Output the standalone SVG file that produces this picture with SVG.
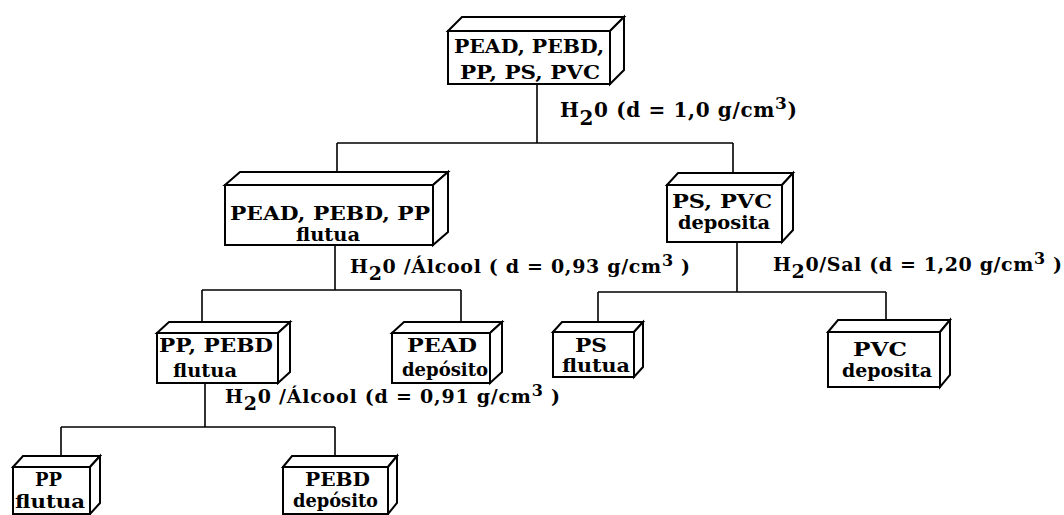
<svg xmlns="http://www.w3.org/2000/svg" width="1064" height="515" viewBox="0 0 1064 515">
<style>
.f{fill:#fff;stroke:#000;stroke-width:2;stroke-linejoin:miter}
.c{fill:none;stroke:#000;stroke-width:1.6}
.t{font-family:"DejaVu Serif","Liberation Serif",serif;font-weight:bold;fill:#000}
.n{font-size:19px}
.l{font-size:19px}
</style>
<rect width="1064" height="515" fill="#fff"/>
<g id="connectors" class="c">
<path d="M537 84V143M337 143H733M337 143V172M733 143V173"/>
<path d="M335 245V290M202 290H461M202 290V322M461 290V322"/>
<path d="M737 242V292M598 292H886M598 292V322M886 292V320"/>
<path d="M205 383V427M61 427H335M61 427V456M335 427V456"/>
</g>
<g id="n-root">
<rect class="f" x="448" y="31" width="162" height="53"/>
<polygon class="f" points="448,31 462,17 624,17 610,31"/>
<polygon class="f" points="610,31 624,17 624,70 610,84"/>
<text class="t n" x="454" y="53" textLength="150" lengthAdjust="spacingAndGlyphs">PEAD, PEBD,</text>
<text class="t n" x="460" y="79" textLength="140" lengthAdjust="spacingAndGlyphs">PP, PS, PVC</text>
</g>
<g id="n-flutua1">
<rect class="f" x="225" y="185" width="208" height="60"/>
<polygon class="f" points="225,185 240,172 448,172 433,185"/>
<polygon class="f" points="433,185 448,172 448,232 433,245"/>
<text class="t n" x="230" y="220" textLength="200" lengthAdjust="spacingAndGlyphs">PEAD, PEBD, PP</text>
<text class="t n" x="296" y="241" textLength="64" lengthAdjust="spacingAndGlyphs">flutua</text>
</g>
<g id="n-deposita1">
<rect class="f" x="667" y="185" width="115" height="57"/>
<polygon class="f" points="667,185 678,173 793,173 782,185"/>
<polygon class="f" points="782,185 793,173 793,230 782,242"/>
<text class="t n" x="672" y="208" textLength="100" lengthAdjust="spacingAndGlyphs">PS, PVC</text>
<text class="t n" x="678" y="229" textLength="92" lengthAdjust="spacingAndGlyphs">deposita</text>
</g>
<g id="n-flutua2">
<rect class="f" x="157" y="333" width="121" height="50"/>
<polygon class="f" points="157,333 169,322 290,322 278,333"/>
<polygon class="f" points="278,333 290,322 290,372 278,383"/>
<text class="t n" x="159" y="352" textLength="114" lengthAdjust="spacingAndGlyphs">PP, PEBD</text>
<text class="t n" x="173" y="377" textLength="64" lengthAdjust="spacingAndGlyphs">flutua</text>
</g>
<g id="n-pead">
<rect class="f" x="392" y="333" width="98" height="50"/>
<polygon class="f" points="392,333 404,322 502,322 490,333"/>
<polygon class="f" points="490,333 502,322 502,372 490,383"/>
<text class="t n" x="407" y="352" textLength="70" lengthAdjust="spacingAndGlyphs">PEAD</text>
<text class="t n" x="402" y="376" textLength="86" lengthAdjust="spacingAndGlyphs">depósito</text>
</g>
<g id="n-ps">
<rect class="f" x="553" y="332" width="81" height="45"/>
<polygon class="f" points="553,332 562,322 643,322 634,332"/>
<polygon class="f" points="634,332 643,322 643,367 634,377"/>
<text class="t n" x="575" y="352" textLength="32" lengthAdjust="spacingAndGlyphs">PS</text>
<text class="t n" x="562" y="372" textLength="68" lengthAdjust="spacingAndGlyphs">flutua</text>
</g>
<g id="n-pvc">
<rect class="f" x="828" y="332" width="112" height="55"/>
<polygon class="f" points="828,332 838,320 950,320 940,332"/>
<polygon class="f" points="940,332 950,320 950,375 940,387"/>
<text class="t n" x="853" y="356" textLength="54" lengthAdjust="spacingAndGlyphs">PVC</text>
<text class="t n" x="842" y="377" textLength="90" lengthAdjust="spacingAndGlyphs">deposita</text>
</g>
<g id="n-pp">
<rect class="f" x="13" y="467" width="77" height="47"/>
<polygon class="f" points="13,467 23,456 100,456 90,467"/>
<polygon class="f" points="90,467 100,456 100,503 90,514"/>
<text class="t n" x="35" y="486" textLength="27" lengthAdjust="spacingAndGlyphs">PP</text>
<text class="t n" x="15" y="508" textLength="70" lengthAdjust="spacingAndGlyphs">flutua</text>
</g>
<g id="n-pebd">
<rect class="f" x="283" y="467" width="105" height="47"/>
<polygon class="f" points="283,467 292,456 397,456 388,467"/>
<polygon class="f" points="388,467 397,456 397,503 388,514"/>
<text class="t n" x="305" y="486" textLength="65" lengthAdjust="spacingAndGlyphs">PEBD</text>
<text class="t n" x="293" y="507" textLength="85" lengthAdjust="spacingAndGlyphs">depósito</text>
</g>
<g id="labels" class="t">
<text style="font-size:20px" x="560" y="117" textLength="237" lengthAdjust="spacing">H<tspan dy="8">2</tspan><tspan dy="-8">0 (d = 1,0 g/cm</tspan><tspan dy="-8" font-size="17">3</tspan><tspan dy="8">)</tspan></text>
<text class="l" x="350" y="273" textLength="340" lengthAdjust="spacing">H<tspan dy="7">2</tspan><tspan dy="-7">0 /Álcool ( d = 0,93 g/cm</tspan><tspan dy="-7" font-size="16">3</tspan><tspan dy="7"> )</tspan></text>
<text class="l" x="773" y="271" textLength="289" lengthAdjust="spacing">H<tspan dy="7">2</tspan><tspan dy="-7">0/Sal (d = 1,20 g/cm</tspan><tspan dy="-7" font-size="16">3</tspan><tspan dy="7"> )</tspan></text>
<text class="l" x="225" y="403" textLength="335" lengthAdjust="spacing">H<tspan dy="7">2</tspan><tspan dy="-7">0 /Álcool (d = 0,91  g/cm</tspan><tspan dy="-7" font-size="16">3</tspan><tspan dy="7"> )</tspan></text>
</g>
</svg>
